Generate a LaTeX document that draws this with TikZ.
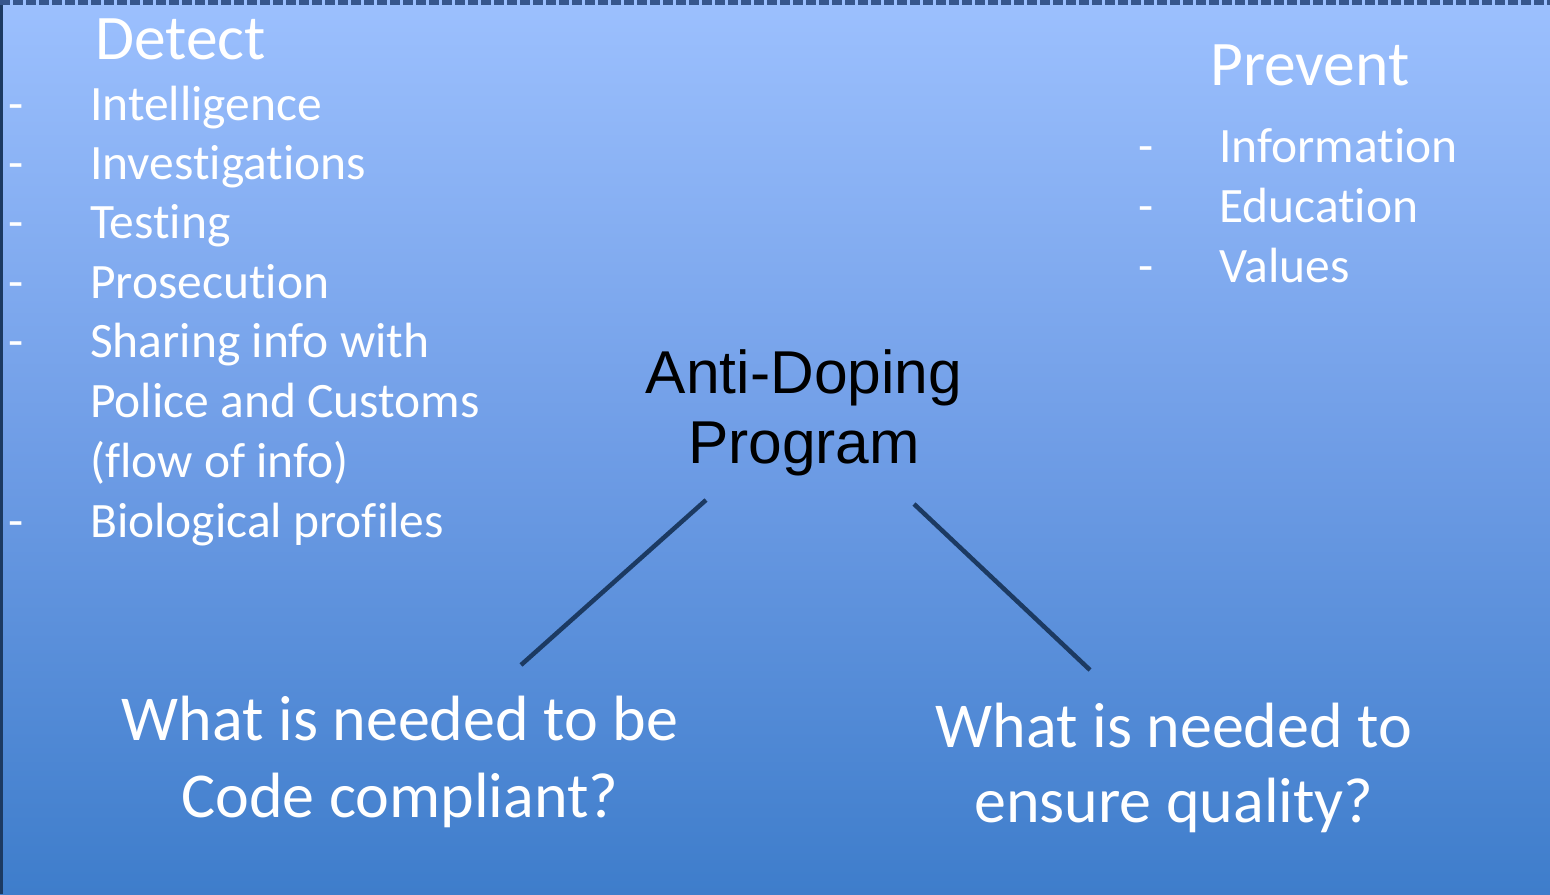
\documentclass[tikz,border=0pt]{standalone}
\usepackage{fontspec}
\setmainfont[Ligatures={NoCommon,NoContextual}]{Carlito}
\newfontfamily\arialf{Liberation Sans}
\definecolor{bgtop}{HTML}{9CC0FE}
\definecolor{bgmid}{HTML}{6F9DE6}
\definecolor{bgbot}{HTML}{3E7DCB}
\definecolor{navy}{HTML}{1C3A62}
\definecolor{edge}{HTML}{36568C}
\begin{document}
\begin{tikzpicture}[x=1bp,y=-1bp,
  txt/.style={text=white,inner sep=0pt,anchor=base west},
  head/.style={txt,font=\fontsize{63.5bp}{72bp}\selectfont},
  item/.style={txt,font=\fontsize{49.5bp}{58bp}\selectfont},
  bullet/.style={txt,font=\fontsize{49.5bp}{58bp}\selectfont},
  quest/.style={text=white,inner sep=0pt,anchor=base,font=\fontsize{64bp}{72bp}\selectfont},
  title/.style={text=black,inner sep=0pt,anchor=base,font=\arialf\fontsize{60.5bp}{72bp}\selectfont},
  conn/.style={draw=navy,line width=4.5bp}]
\useasboundingbox (0,0) rectangle (1550,894);
\shade[top color=bgtop,bottom color=bgbot,middle color=bgmid] (0,0) rectangle (1550,894);
\fill[navy] (0,0) rectangle (3,894);
\draw[edge,line width=6bp,dash pattern=on 10bp off 3bp] (0,2) -- (1550,2);

% Detect
\node[head] (detect) at (95,59) {Detect};
\foreach \y/\t [count=\i] in {120/Intelligence,179/Investigations,238/Testing,298/Prosecution,357/Sharing info with}
  {\node[bullet] (db\i) at (8,\y) {-}; \node[item] (d\i) at (90,\y) {\t};}
\node[item] (d6) at (90,417) {Police and Customs};
\node[item] (d7) at (90,477) {(flow of info)};
\node[bullet] (db8) at (8,537) {-};
\node[item] (d8) at (90,537) {Biological profiles};

% Prevent
\node[head] (prevent) at (1210,85) {Prevent};
\foreach \y/\t [count=\i] in {162/Information,222/Education,282/Values}
  {\node[bullet] (pb\i) at (1138,\y) {-}; \node[item] (p\i) at (1219,\y) {\t};}

% Center
\node[title] (adp1) at (804,393) {Anti-Doping};
\node[title] (adp2) at (804,463) {Program};

% Questions
\node[quest] (q1a) at (400,740) {What is needed to be};
\node[quest] (q1b) at (400,817) {Code compliant?};
\node[quest] (q2a) at (1174,747) {What is needed to};
\node[quest] (q2b) at (1174,822) {ensure quality?};

\coordinate (l1s) at (706,500);
\coordinate (l1e) at (521,665);
\coordinate (l2s) at (914,504);
\coordinate (l2e) at (1090,670);
\draw[conn] (l1s) -- (l1e);
\draw[conn] (l2s) -- (l2e);
\end{tikzpicture}
\end{document}
